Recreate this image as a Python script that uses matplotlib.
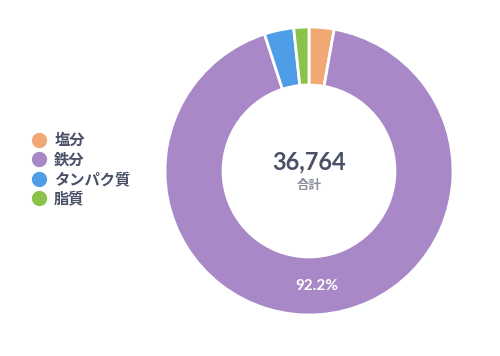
import matplotlib
matplotlib.use("Agg")
import matplotlib.pyplot as plt
from matplotlib.lines import Line2D

plt.rcParams['font.family'] = ['Lato', 'Noto Sans CJK JP', 'DejaVu Sans']

labels = ['塩分', '鉄分', 'タンパク質', '脂質']
values = [1029, 33897, 1213, 625]
colors = ['#F2A874', '#A888C6', '#4E9DE6', '#8BC34A']
total_label = '合計'
text_color = '#4A5068'

fig = plt.figure(figsize=(5, 3.56), dpi=100)
ax = fig.add_axes([0.33, 0.1152, 0.576, 0.809])

total = sum(values)

def fmt(p):
    return f'{p:.1f}%' if p > 10 else ''

wedges, texts, autotexts = ax.pie(
    values, colors=colors, startangle=90, counterclock=False,
    radius=1.0, autopct=fmt, pctdistance=0.8,
    wedgeprops=dict(width=0.403, edgecolor='white', linewidth=2),
    textprops=dict(color='white', fontsize=11, fontweight='bold'))
ax.set_xlim(-1, 1)
ax.set_ylim(-1, 1)
ax.set_aspect('equal')
ax.axis('off')

ax.text(0, 0.06, f'{total:,}', ha='center', va='center', fontsize=17,
        fontweight='bold', color=text_color)
ax.text(0, -0.1, total_label, ha='center', va='center', fontsize=9,
        fontweight='bold', color='#8A8E9C')

handles = [Line2D([0], [0], marker='o', linestyle='', markersize=10,
                  markerfacecolor=c, markeredgecolor=c) for c in colors]
fig.legend(handles, labels, loc='center left', bbox_to_anchor=(0.035, 0.522),
           frameon=False, handletextpad=0.5, labelspacing=0.3,
           prop=dict(size=11, weight='bold'), labelcolor=text_color,
           handlelength=1.0)

fig.savefig('out.png', dpi=100)
